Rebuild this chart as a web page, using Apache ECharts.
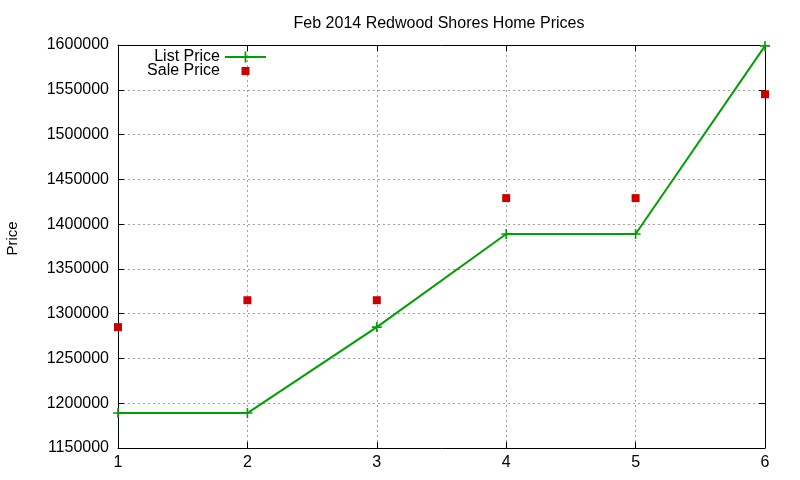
<!DOCTYPE html>
<html>
<head>
<meta charset="utf-8">
<script src="https://cdn.jsdelivr.net/npm/echarts@6/dist/echarts.min.js"></script>
<style>
html,body{margin:0;padding:0;background:#fff;}
#c{width:800px;height:480px;}
</style>
</head>
<body>
<div id="c"></div>
<script>
var months = [1, 2, 3, 4, 5, 6];
var listPrice = [1189000, 1189000, 1285000, 1389000, 1389000, 1599000];
var salePrice = [1285000, 1315000, 1315000, 1429000, 1429000, 1545000];
var yTicks = { min: 1150000, max: 1600000, step: 50000 };
var xTicks = { min: 1, max: 6, step: 1 };

var FONT = 'Liberation Sans, Arial, sans-serif';
var PLUS = 'path://M-1,-0.16H1V0.16H-1Z M-0.16,-1H0.16V1H-0.16Z';
var SQUARE_ICON = 'path://M-3,-3M11,11M0,0H8V8H0Z';

function pairs(xs, ys) { return xs.map(function (x, i) { return [x, ys[i]]; }); }

var chart = echarts.init(document.getElementById('c'), null, { renderer: 'canvas' });
var axisCommon = {
  type: 'value',
  axisLine: { show: true, onZero: false, lineStyle: { color: '#000', width: 1 } },
  axisTick: { show: true, inside: true, length: 6, lineStyle: { color: '#000' } },
  axisLabel: { color: '#000', fontFamily: FONT, fontSize: 16 },
  splitLine: { show: false }
};
chart.setOption({
  animation: false,
  backgroundColor: '#fff',
  title: {
    text: 'Feb 2014 Redwood Shores Home Prices',
    left: 434, top: 11, textAlign: 'center',
    textStyle: { fontFamily: FONT, fontSize: 16, fontWeight: 'normal', color: '#000' }
  },
  grid: { left: 118, top: 45, right: 35, bottom: 32, containLabel: false, outerBoundsMode: 'none' },
  legend: {
    orient: 'vertical', right: 528, top: 44, align: 'right',
    itemWidth: 41, itemHeight: 14, itemGap: -2,
    textStyle: { fontFamily: FONT, fontSize: 16, color: '#000' },
    data: [
      { name: 'List Price' },
      { name: 'Sale Price', icon: SQUARE_ICON, itemStyle: { color: '#cc0000', opacity: 1 } }
    ],
    selectedMode: false
  },
  xAxis: [
    Object.assign({}, axisCommon, {
      position: 'bottom', min: xTicks.min, max: xTicks.max, interval: xTicks.step,
      axisLabel: Object.assign({}, axisCommon.axisLabel, { margin: 7 }),
      splitLine: { show: true, lineStyle: { color: '#a0a0a0', type: [2, 3], width: 1 } }
    }),
    Object.assign({}, axisCommon, {
      position: 'top', min: xTicks.min, max: xTicks.max, interval: xTicks.step,
      axisLabel: { show: false }
    })
  ],
  yAxis: [
    Object.assign({}, axisCommon, {
      position: 'left', min: yTicks.min, max: yTicks.max, interval: yTicks.step,
      name: 'Price', nameLocation: 'middle', nameGap: 98, nameRotate: 90,
      nameTextStyle: { fontFamily: FONT, fontSize: 15, color: '#000', padding: [0, 0, 0, 16] },
      axisLabel: Object.assign({}, axisCommon.axisLabel, {
        margin: 9,
        formatter: function (v) { return String(v); }
      }),
      splitLine: { show: true, lineStyle: { color: '#a0a0a0', type: [2, 3], width: 1 } }
    }),
    Object.assign({}, axisCommon, {
      position: 'right', min: yTicks.min, max: yTicks.max, interval: yTicks.step,
      axisLabel: { show: false }
    })
  ],
  series: [
    {
      name: 'List Price', type: 'line', xAxisIndex: 0, yAxisIndex: 0,
      data: pairs(months, listPrice),
      symbol: PLUS, symbolSize: 10, showAllSymbol: true,
      lineStyle: { color: '#00a000', width: 2 },
      itemStyle: { color: '#00a000' },
      clip: false, z: 3
    },
    {
      name: 'Sale Price', type: 'scatter', xAxisIndex: 0, yAxisIndex: 0,
      data: pairs(months, salePrice),
      symbol: 'rect', symbolSize: 8,
      itemStyle: { color: '#cc0000', opacity: 1 },
      clip: false, z: 4
    }
  ]
});
</script>
</body>
</html>
